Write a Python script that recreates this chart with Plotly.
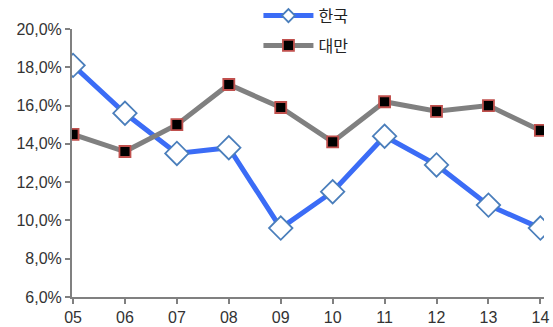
import plotly.graph_objects as go

# Years (2005-2014) shown as two-digit labels
years = ["05", "06", "07", "08", "09", "10", "11", "12", "13", "14"]
korea = [18.1, 15.6, 13.5, 13.8, 9.6, 11.5, 14.4, 12.9, 10.8, 9.6]
taiwan = [14.5, 13.6, 15.0, 17.1, 15.9, 14.1, 16.2, 15.7, 16.0, 14.7]
y_ticks = [6, 8, 10, 12, 14, 16, 18, 20]
y_tick_labels = ["6,0%", "8,0%", "10,0%", "12,0%", "14,0%", "16,0%", "18,0%", "20,0%"]

x = list(range(len(years)))

korea_line = dict(color="#3B6CF6", width=5)
taiwan_line = dict(color="#808080", width=5)
korea_marker_line = dict(color="#4A7EBB", width=1.8)
taiwan_marker_line = dict(color="#C0504D", width=1.8)

fig = go.Figure()
fig.add_trace(go.Scatter(
    x=x, y=korea, name="한국", mode="lines+markers", showlegend=False,
    line=korea_line,
    marker=dict(symbol="diamond", size=18, color="white", line=korea_marker_line),
))
fig.add_trace(go.Scatter(
    x=x, y=taiwan, name="대만", mode="lines+markers", showlegend=False,
    line=taiwan_line,
    marker=dict(symbol="square", size=11, color="black", line=taiwan_marker_line),
))

# Legend entries with smaller symbols than the plotted markers
fig.add_trace(go.Scatter(
    x=[None], y=[None], name="한국", mode="lines+markers", legendgroup="a",
    line=korea_line,
    marker=dict(symbol="diamond", size=10, color="white", line=korea_marker_line),
))
fig.add_trace(go.Scatter(
    x=[None], y=[None], name="대만", mode="lines+markers", legendgroup="b",
    line=taiwan_line,
    marker=dict(symbol="square", size=11, color="black", line=taiwan_marker_line),
))

axis_font = dict(family="Liberation Sans, Arial, sans-serif", size=16, color="#333333")

fig.update_layout(
    width=553, height=327,
    margin=dict(l=72, r=9, t=29, b=30, autoexpand=False),
    paper_bgcolor="white", plot_bgcolor="white",
    showlegend=True,
    legend=dict(
        x=0.395, y=1.113, xanchor="left", yanchor="top",
        bgcolor="rgba(0,0,0,0)",
        font=dict(family="Noto Sans CJK KR, sans-serif", size=16, color="#222"),
        itemwidth=50, tracegroupgap=6,
    ),
    xaxis=dict(
        tickmode="array", tickvals=x, ticktext=years,
        range=[-0.02, 9.07], showgrid=False, zeroline=False,
        showline=True, linecolor="#808080", linewidth=2,
        ticks="outside", ticklen=5, tickcolor="#808080", tickwidth=1.5,
        tickfont=axis_font,
    ),
    yaxis=dict(
        tickmode="array", tickvals=y_ticks, ticktext=y_tick_labels,
        range=[6, 20], showgrid=False, zeroline=False,
        showline=True, linecolor="#808080", linewidth=2,
        ticks="outside", ticklen=5, tickcolor="#808080", tickwidth=1.5,
        tickfont=axis_font,
    ),
)

fig.write_html("out.html")
